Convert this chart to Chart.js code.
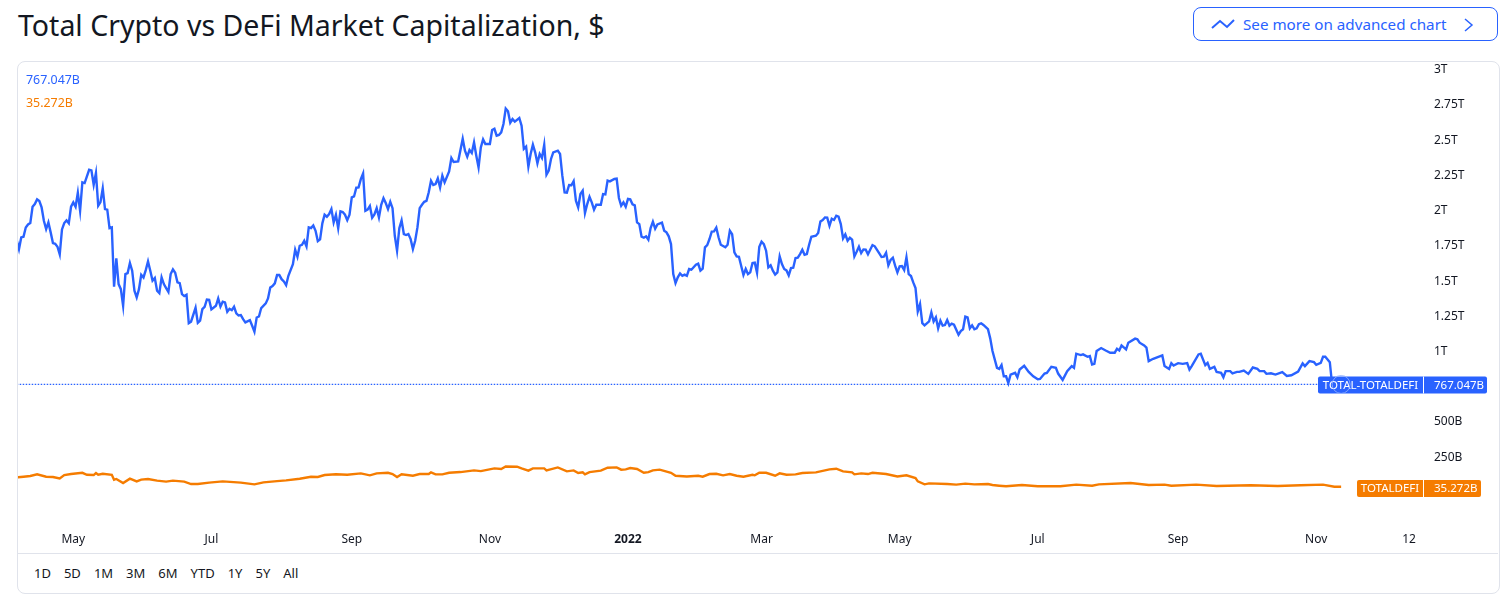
<!DOCTYPE html>
<html><head><meta charset="utf-8">
<script src="https://cdn.jsdelivr.net/npm/chart.js@4"></script>
<style>
html,body{margin:0;padding:0;background:#fff;width:1508px;height:604px;overflow:hidden;font-family:"Noto Sans",sans-serif;color:#131722}
h1{position:absolute;left:18px;top:6px;margin:0;font-size:28.5px;line-height:38px;font-weight:400;white-space:nowrap}
#card{position:absolute;left:17px;top:61px;width:1481px;height:531px;border:1px solid #e0e3eb;border-radius:8px;box-sizing:content-box}
#sep{position:absolute;left:18px;top:553px;width:1480px;height:1px;background:#e0e3eb}
#btn{position:absolute;left:1193px;top:7px;width:303px;height:32px;border:1px solid #2962ff;border-radius:8px;color:#2962ff;font-size:15.2px;line-height:33px}
#btn span{position:absolute;left:49px;top:0;white-space:nowrap}
#btn svg{position:absolute;left:0;top:0}
#range{position:absolute;left:34px;top:563px;display:flex;gap:13px;font-size:13px;line-height:20px}
.val{position:absolute;left:26px;font-size:12.4px;line-height:16px}
canvas{position:absolute;left:0;top:0}
</style></head><body>
<h1 id="title"></h1>
<div id="card"></div><div id="sep"></div>
<div id="btn"><svg width="303" height="32" fill="none" stroke="#2962ff" stroke-width="2"><polyline points="18,20 26,13 33,19 40,12"/><polyline points="271,11 278,17 271,23" stroke-width="1.5"/></svg><span id="btnText"></span></div>
<div id="range"></div>
<canvas id="c" width="1508" height="604"></canvas>
<div class="val" id="v1" style="top:72px;color:#2962ff"></div>
<div class="val" id="v2" style="top:95px;color:#f57c00"></div>
<script>
const titleText = "Total Crypto vs DeFi Market Capitalization, $";
const buttonText = "See more on advanced chart";
const rangeButtons = ["1D","5D","1M","3M","6M","YTD","1Y","5Y","All"];
const blueName = "TOTAL-TOTALDEFI", orangeName = "TOTALDEFI";
const blueLast = 767.047, orangeLast = 35.272;
const blueLastText = "767.047B", orangeLastText = "35.272B";
// x values: days since 2021-04-06; y values: billions of USD
const xTickDays = [25,86,148,209,270,329,390,451,513,574,615];
const xTickLabels = ["May","Jul","Sep","Nov","2022","Mar","May","Jul","Sep","Nov","12"];
const yTickValues = [250,500,1000,1250,1500,1750,2000,2250,2500,2750,3000];
const yTickLabels = ["250B","500B","1T","1.25T","1.5T","1.75T","2T","2.25T","2.5T","2.75T","3T"];
const blueDays = [0,1,2,3,4,5,6,7,8,9,10,11,12,13,14,15,16,17,18,19,20,21,22,23,24,25,26,27,28,29,30,32,33,34,35,36,37,38,39,40,41,42,43,44,45,46,47,48,49,50,51,52,53,54,55,56,57,58,59,60,61,62,63,64,65,66,67,68,69,70,71,72,73,74,75,76,77,79,80,81,82,83,84,85,86,88,89,90,91,92,93,94,95,96,97,98,99,100,101,103,104,105,106,107,108,110,111,112,113,114,115,116,117,118,119,120,122,123,124,125,126,127,128,129,130,131,132,133,134,135,136,137,138,139,140,141,142,143,144,145,146,147,148,149,150,151,152,153,154,155,156,157,158,159,160,161,162,163,164,165,166,167,168,169,170,171,172,173,174,175,176,177,178,179,180,181,182,183,184,185,186,187,188,189,191,192,193,195,197,198,199,200,201,202,203,204,205,206,207,209,210,211,212,213,
214,215,216,217,218,219,220,222,223,224,225,226,227,228,229,230,231,232,233,234,235,236,237,239,240,241,242,243,244,245,246,247,248,249,250,251,252,253,254,255,256,258,259,260,261,262,264,265,266,267,268,269,270,271,272,273,274,275,276,277,278,279,280,281,282,283,285,286,287,288,289,290,291,292,293,294,295,296,297,298,300,301,302,303,304,305,306,307,308,309,310,311,313,314,315,316,317,318,319,321,322,323,324,325,326,327,328,329,330,331,332,333,334,335,336,337,338,339,340,341,342,343,344,345,346,347,348,349,350,351,353,354,355,356,357,358,359,360,361,362,363,364,365,366,367,368,369,370,371,372,373,374,375,376,378,379,381,382,383,384,385,386,387,388,389,390,391,392,393,394,395,396,397,398,399,400,401,403,404,405,406,407,408,409,410,411,412,413,414,416,417,418,419,420,421,422,423,424,425,
426,427,429,430,431,433,434,435,436,437,438,439,441,442,443,445,447,449,451,452,454,455,457,459,460,462,464,466,467,468,470,471,473,474,475,476,477,479,481,483,485,486,487,488,490,491,494,495,496,498,499,500,502,506,507,509,510,511,513,515,517,518,519,522,523,525,526,527,529,530,532,533,534,536,537,539,540,542,544,546,548,549,551,552,554,556,559,561,563,566,568,569,571,573,574,576,577,578,580,581,585];
const blueValues = [1791,1727,1810,1815,1881,1902,1912,2028,2047,2080,2068,2023,1928,1869,1917,1846,1770,1765,1744,1690,1867,1912,1931,1910,2028,2059,2028,2127,1999,2201,2196,2290,2286,2184,2267,2035,2061,2158,2011,2007,1876,1881,1460,1661,1479,1443,1325,1550,1557,1628,1574,1432,1384,1443,1545,1526,1578,1640,1574,1503,1522,1432,1415,1526,1479,1451,1424,1550,1583,1559,1491,1486,1408,1394,1403,1202,1212,1311,1204,1219,1301,1318,1370,1368,1299,1325,1377,1320,1354,1349,1283,1304,1294,1318,1271,1256,1259,1230,1207,1223,1183,1141,1242,1249,1309,1342,1377,1455,1465,1484,1543,1543,1514,1498,1472,1538,1621,1723,1673,1751,1758,1786,1746,1881,1876,1895,1857,1784,1796,1910,1971,1957,1976,2011,1917,1971,1876,1995,1990,1971,1933,1971,2094,2101,2163,2165,2224,2264,1999,2007,2033,1950,1973,2018,1952,2042,2089,2054,2011,2063,2018,1822,1716,1876,1931,1834,1827,1834,1798,1727,1786,1881,2018,2042,2063,2070,2130,2212,2182,2189,2229,2165,2248,2201,2279,2373,2345,2350,2510,2425,2383,2430,2409,2484,2390,2307,2449,2506,2473,2473,2572,2581,2532,2537,
2556,2615,2724,2705,2624,2650,2632,2658,2603,2438,2454,2312,2402,2468,2414,2336,2402,2374,2468,2255,2284,2367,2414,2426,2402,2248,2130,2128,2182,2180,2210,2071,2023,2118,2142,1983,2047,2099,2059,2007,2042,2042,2118,2116,2213,2208,2225,2227,2090,2035,2059,2028,2083,2080,2045,2038,1917,1905,1815,1808,1818,1794,1877,1922,1872,1903,1915,1858,1846,1818,1763,1550,1486,1527,1555,1538,1546,1538,1586,1581,1617,1624,1574,1588,1740,1756,1799,1851,1853,1879,1811,1758,1740,1758,1858,1834,1704,1676,1673,1543,1586,1550,1562,1628,1631,1560,1744,1780,1763,1716,1598,1612,1574,1546,1562,1676,1621,1586,1576,1541,1593,1595,1664,1666,1692,1723,1687,1692,1758,1815,1822,1841,1924,1934,1952,1950,1893,1943,1934,1964,1957,1905,1803,1832,1787,1808,1794,1676,1709,1744,1699,1725,1723,1690,1756,1747,1697,1671,1673,1702,1612,1650,1666,1610,1562,1605,1607,1579,1669,1550,1536,1491,1451,1285,1337,1202,1186,1214,1278,1214,1243,1165,1219,1184,1188,1224,1184,1198,1191,1120,1146,1158,1248,1243,1165,1186,1158,1165,1195,
1201,1189,1159,1094,1004,885,877,904,825,825,777,837,849,818,873,899,856,825,804,806,844,849,892,885,844,799,861,897,885,985,975,980,963,968,908,913,1004,1025,1008,992,992,1020,1008,1044,1016,1063,1092,1087,1063,1044,1028,932,949,973,897,877,918,901,918,913,918,873,897,980,985,904,920,877,892,856,849,818,861,861,846,856,856,865,842,887,877,861,861,842,846,837,854,827,832,858,916,897,932,925,906,920,963,963,925,768,767];
const orangeDays = [0,3,6,9,13,16,19,21,24,29,31,34,35,36,38,42,43,44,47,50,53,55,58,62,66,69,74,77,80,85,91,99,105,109,115,119,125,130,133,136,141,146,152,156,159,164,166,168,170,175,178,182,183,185,188,191,196,202,205,211,214,216,221,223,226,228,233,234,239,243,246,248,250,251,253,258,261,265,267,269,271,274,277,279,281,284,289,291,296,301,303,306,309,312,315,318,321,325,326,328,331,335,337,340,344,347,353,359,362,365,369,370,373,376,378,384,389,393,397,398,401,403,411,415,419,423,429,431,434,437,444,451,461,468,475,478,492,500,507,510,521,530,545,557,567,577,582,585];
const orangeValues = [107,112,117,129,112,110,100,124,131,140,126,124,138,126,133,126,91,96,67,98,79,91,96,84,77,84,77,60,60,70,79,70,58,72,81,86,98,112,110,124,129,126,136,122,136,140,131,110,129,119,131,131,143,129,129,140,145,157,152,171,167,185,183,171,155,171,171,157,178,150,157,138,143,129,145,155,176,178,162,164,174,167,140,145,157,162,140,119,114,119,112,131,133,122,131,119,112,126,122,140,140,119,136,126,129,138,143,164,169,150,143,129,136,131,140,131,114,122,103,79,58,65,60,56,63,58,60,53,48,44,53,44,44,56,48,58,67,53,56,48,56,46,51,46,51,56,41,41];

const BLUE="#2962ff", ORANGE="#f57c00", FONT='"Noto Sans",sans-serif';
document.getElementById("title").textContent=titleText;
document.getElementById("btnText").textContent=buttonText;
document.getElementById("v1").textContent=blueLastText;
document.getElementById("v2").textContent=orangeLastText;
const rangeEl=document.getElementById("range");
rangeButtons.forEach(t=>{const s=document.createElement("span");s.textContent=t;rangeEl.appendChild(s);});
const pairs=(xs,ys)=>xs.map((x,i)=>({x,y:ys[i]}));

const tags={id:"tags",afterDatasetsDraw(ch){
  const g=ch.ctx,ys=ch.scales.y;
  const tag=(val,name,text,left,right,color,off)=>{
    const cy=Math.round(ys.getPixelForValue(val))+off, h=17, top=cy-8.5, sepX=1423;
    g.save();g.fillStyle=color;g.beginPath();g.roundRect(left,top,right-left,h,2);g.fill();
    g.fillStyle="#fff";g.fillRect(sepX,top,1,h);
    g.font='11.5px '+FONT;g.textBaseline="middle";g.textAlign="center";
    g.fillText(name,(left+sepX)/2,cy+.5);
    g.textAlign="left";g.fillText(text,1434,cy+.5);g.restore();
  };
  tag(blueLast,blueName,blueLastText,1318,1487,BLUE,1);
  tag(orangeLast,orangeName,orangeLastText,1357,1481,ORANGE,.5);
  const px=ch.scales.x.getPixelForValue(blueDays[blueDays.length-1]);
  const py=ys.getPixelForValue(blueLast);
  g.save();g.strokeStyle="rgba(150,180,255,.8)";g.lineWidth=1;g.beginPath();g.arc(px,py,9,0,Math.PI*2);g.stroke();g.restore();
}};

new Chart(document.getElementById("c"),{
  type:"line",
  data:{datasets:[
    {data:pairs([blueDays[0],blueDays[blueDays.length-1]],[blueLast,blueLast]),borderColor:BLUE,borderWidth:1.4,borderDash:[1.5,1.5],pointRadius:0},
    {data:pairs(orangeDays,orangeValues),borderColor:ORANGE,borderWidth:2.4,pointRadius:0,tension:0},
    {data:pairs(blueDays,blueValues),borderColor:BLUE,borderWidth:2.4,pointRadius:0,tension:0}
  ]},
  plugins:[tags],
  options:{
    responsive:false,animation:false,devicePixelRatio:1,
    layout:{padding:{left:18,right:10,top:62,bottom:51}},
    plugins:{legend:{display:false},tooltip:{enabled:false},title:{display:false}},
    scales:{
      x:{type:"linear",min:0.57,max:621.6,
        grid:{display:false},border:{display:false},
        afterBuildTicks:s=>{s.ticks=xTickDays.map(v=>({value:v}));},
        afterFit:s=>{s.height=28;},
        ticks:{autoSkip:false,maxRotation:0,padding:-1,color:"#131722",
          font:c=>({family:FONT,size:12,weight:c.tick&&c.tick.label==="2022"?"bold":"normal"}),
          callback:v=>xTickLabels[xTickDays.indexOf(v)]}},
      y:{type:"linear",position:"right",min:-230.6,max:3055,
        grid:{display:false},border:{display:false},
        afterBuildTicks:s=>{s.ticks=yTickValues.map(v=>({value:v}));},
        afterFit:s=>{s.width=74;},
        ticks:{autoSkip:false,padding:2,color:"#131722",font:{family:FONT,size:12},
          callback:v=>yTickLabels[yTickValues.indexOf(v)]}}
    }
  }
});
</script></body></html>
